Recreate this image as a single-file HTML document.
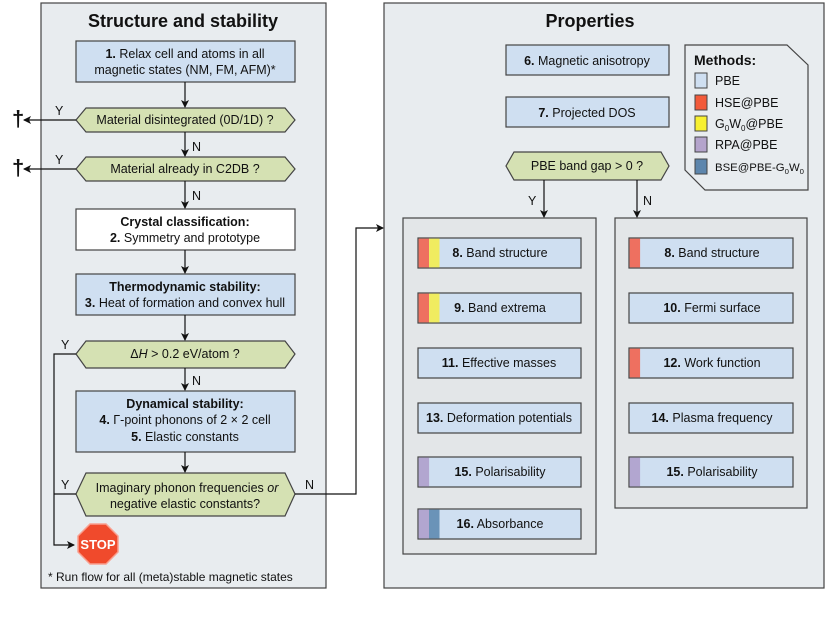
<!DOCTYPE html>
<html><head><meta charset="utf-8"><style>
body{margin:0;background:#fff}
svg{display:block;font-family:"Liberation Sans",sans-serif}
text{font-size:12.5px;fill:#111}
.b{font-weight:bold}
</style></head><body>
<svg width="830" height="623" viewBox="0 0 830 623">
<defs><marker id="a" markerWidth="8" markerHeight="8" refX="7" refY="4" orient="auto" markerUnits="userSpaceOnUse"><path d="M0,0 L8,4 L0,8 L2,4z" fill="#111"/></marker></defs>
<g stroke="#444" stroke-width="1.2">
<rect x="41" y="3" width="285" height="585" fill="#e8ecef"/>
<rect x="384" y="3" width="440" height="585" fill="#e8ecef"/>
<rect x="403" y="218" width="193" height="336" fill="#e3e6e8"/>
<rect x="615" y="218" width="192" height="290" fill="#e3e6e8"/>
<rect x="76" y="41" width="219" height="41" fill="#cfdff1"/>
<polygon points="86,108 285,108 295,120 285,132 86,132 76,120" fill="#d5e1b3"/>
<polygon points="86,157 285,157 295,169 285,181 86,181 76,169" fill="#d5e1b3"/>
<rect x="76" y="209" width="219" height="41" fill="#fff"/>
<rect x="76" y="274" width="219" height="41" fill="#cfdff1"/>
<polygon points="86,341 285,341 295,354 285,368 86,368 76,354" fill="#d5e1b3"/>
<rect x="76" y="391" width="219" height="61" fill="#cfdff1"/>
<polygon points="86,473 285,473 295,494 285,516 86,516 76,494" fill="#d5e1b3"/>
<rect x="506" y="45" width="163" height="30" fill="#cfdff1"/>
<rect x="506" y="97" width="163" height="30" fill="#cfdff1"/>
<polygon points="514,152 661,152 669,166 661,180 514,180 506,166" fill="#d5e1b3"/>
<polygon points="685,45 787,45 808,65 808,190 705,190 685,170" fill="#e8ecef"/>
</g>
<g stroke="#444" stroke-width="1.2" fill="#cfdff1">
<rect x="418" y="238" width="163" height="30"/><rect x="418" y="293" width="163" height="30"/>
<rect x="418" y="348" width="163" height="30"/><rect x="418" y="403" width="163" height="30"/>
<rect x="418" y="457" width="163" height="30"/><rect x="418" y="509" width="163" height="30"/>
<rect x="629" y="238" width="164" height="30"/><rect x="629" y="293" width="164" height="30"/>
<rect x="629" y="348" width="164" height="30"/><rect x="629" y="403" width="164" height="30"/>
<rect x="629" y="457" width="164" height="30"/>
</g>
<g>
<rect x="418.6" y="238.6" width="10.5" height="28.8" fill="#ee7060"/><rect x="429" y="238.6" width="10.5" height="28.8" fill="#f0ec60"/>
<rect x="418.6" y="293.6" width="10.5" height="28.8" fill="#ee7060"/><rect x="429" y="293.6" width="10.5" height="28.8" fill="#f0ec60"/>
<rect x="418.6" y="457.6" width="10.5" height="28.8" fill="#b2a6d0"/>
<rect x="418.6" y="509.6" width="10.5" height="28.8" fill="#b2a6d0"/><rect x="429" y="509.6" width="10.5" height="28.8" fill="#6a93b8"/>
<rect x="629.6" y="238.6" width="10.5" height="28.8" fill="#ee7060"/>
<rect x="629.6" y="348.6" width="10.5" height="28.8" fill="#ee7060"/>
<rect x="629.6" y="457.6" width="10.5" height="28.8" fill="#b2a6d0"/>
</g>
<g stroke="#444" stroke-width="1">
<rect x="695" y="73" width="12" height="15" fill="#cfdff1"/>
<rect x="695" y="95" width="12" height="15" fill="#f25a3a"/>
<rect x="695" y="116" width="12" height="15" fill="#f7f030"/>
<rect x="695" y="137" width="12" height="15" fill="#b4a4cc"/>
<rect x="695" y="159" width="12" height="15" fill="#5d86ad"/>
</g>
<g stroke="#111" stroke-width="1.2" fill="none">
<line x1="185" y1="82" x2="185" y2="107" marker-end="url(#a)"/>
<line x1="185" y1="132" x2="185" y2="156" marker-end="url(#a)"/>
<line x1="185" y1="181" x2="185" y2="208" marker-end="url(#a)"/>
<line x1="185" y1="250" x2="185" y2="273" marker-end="url(#a)"/>
<line x1="185" y1="315" x2="185" y2="340" marker-end="url(#a)"/>
<line x1="185" y1="368" x2="185" y2="390" marker-end="url(#a)"/>
<line x1="185" y1="452" x2="185" y2="472" marker-end="url(#a)"/>
<line x1="76" y1="120" x2="24" y2="120" marker-end="url(#a)"/>
<line x1="76" y1="169" x2="24" y2="169" marker-end="url(#a)"/>
<polyline points="76,354 54,354 54,545 74,545" marker-end="url(#a)"/>
<line x1="54" y1="494" x2="76" y2="494"/>
<polyline points="295,494 356,494 356,228 383,228" marker-end="url(#a)"/>
<line x1="544" y1="180" x2="544" y2="217" marker-end="url(#a)"/>
<line x1="637" y1="180" x2="637" y2="217" marker-end="url(#a)"/>
</g>
<polygon points="90,524 106,524 118,536 118,552 106,564 90,564 78,552 78,536" fill="#f04a2c" stroke="#f9a090" stroke-width="1.5"/>
<text x="98" y="549" text-anchor="middle" style="font-size:13px;font-weight:bold;fill:#fff">STOP</text>
<text x="12" y="126" class="b" style="font-size:22px">†</text>
<text x="12" y="175" class="b" style="font-size:22px">†</text>
<text x="55" y="115">Y</text><text x="55" y="164">Y</text>
<text x="61" y="349">Y</text><text x="61" y="489">Y</text>
<text x="192" y="151">N</text><text x="192" y="200">N</text><text x="192" y="385">N</text>
<text x="305" y="489">N</text>
<text x="528" y="205">Y</text><text x="643" y="205">N</text>
<text x="183" y="27" text-anchor="middle" class="b" style="font-size:18px">Structure and stability</text>
<text x="590" y="27" text-anchor="middle" class="b" style="font-size:18px">Properties</text>
<g text-anchor="middle">
<text x="185" y="58"><tspan class="b">1.</tspan> Relax cell and atoms in all</text>
<text x="185" y="74">magnetic states (NM, FM, AFM)*</text>
<text x="185" y="124">Material disintegrated (0D/1D) ?</text>
<text x="185" y="173">Material already in C2DB ?</text>
<text x="185" y="226" class="b">Crystal classification:</text>
<text x="185" y="242"><tspan class="b">2.</tspan> Symmetry and prototype</text>
<text x="185" y="291" class="b">Thermodynamic stability:</text>
<text x="185" y="307"><tspan class="b">3.</tspan> Heat of formation and convex hull</text>
<text x="185" y="358">Δ<tspan font-style="italic">H</tspan> &gt; 0.2 eV/atom ?</text>
<text x="185" y="408" class="b">Dynamical stability:</text>
<text x="185" y="424"><tspan class="b">4.</tspan> Γ-point phonons of 2 × 2 cell</text>
<text x="185" y="441"><tspan class="b">5.</tspan> Elastic constants</text>
<text x="187" y="492">Imaginary phonon frequencies <tspan font-style="italic">or</tspan></text>
<text x="185" y="508">negative elastic constants?</text>
<text x="587" y="65"><tspan class="b">6.</tspan> Magnetic anisotropy</text>
<text x="587" y="117"><tspan class="b">7.</tspan> Projected DOS</text>
<text x="587" y="170">PBE band gap &gt; 0 ?</text>
<text x="500" y="257"><tspan class="b">8.</tspan> Band structure</text>
<text x="500" y="312"><tspan class="b">9.</tspan> Band extrema</text>
<text x="499" y="367"><tspan class="b">11.</tspan> Effective masses</text>
<text x="499" y="422"><tspan class="b">13.</tspan> Deformation potentials</text>
<text x="500" y="476"><tspan class="b">15.</tspan> Polarisability</text>
<text x="500" y="528"><tspan class="b">16.</tspan> Absorbance</text>
<text x="712" y="257"><tspan class="b">8.</tspan> Band structure</text>
<text x="712" y="312"><tspan class="b">10.</tspan> Fermi surface</text>
<text x="712" y="367"><tspan class="b">12.</tspan> Work function</text>
<text x="712" y="422"><tspan class="b">14.</tspan> Plasma frequency</text>
<text x="712" y="476"><tspan class="b">15.</tspan> Polarisability</text>
</g>
<text x="48" y="581" style="font-size:12px">* Run flow for all (meta)stable magnetic states</text>
<text x="694" y="65" class="b" style="font-size:14px">Methods:</text>
<g style="font-size:11.5px">
<text x="715" y="85">PBE</text>
<text x="715" y="107">HSE@PBE</text>
<text x="715" y="128">G<tspan dy="3" style="font-size:8px">0</tspan><tspan dy="-3">W</tspan><tspan dy="3" style="font-size:8px">0</tspan><tspan dy="-3">@PBE</tspan></text>
<text x="715" y="149">RPA@PBE</text>
<text x="715" y="171" style="font-size:11px" textLength="89" lengthAdjust="spacingAndGlyphs">BSE@PBE-G<tspan dy="3" style="font-size:7.5px">0</tspan><tspan dy="-3">W</tspan><tspan dy="3" style="font-size:7.5px">0</tspan></text>
</g>
</svg>
</body></html>
